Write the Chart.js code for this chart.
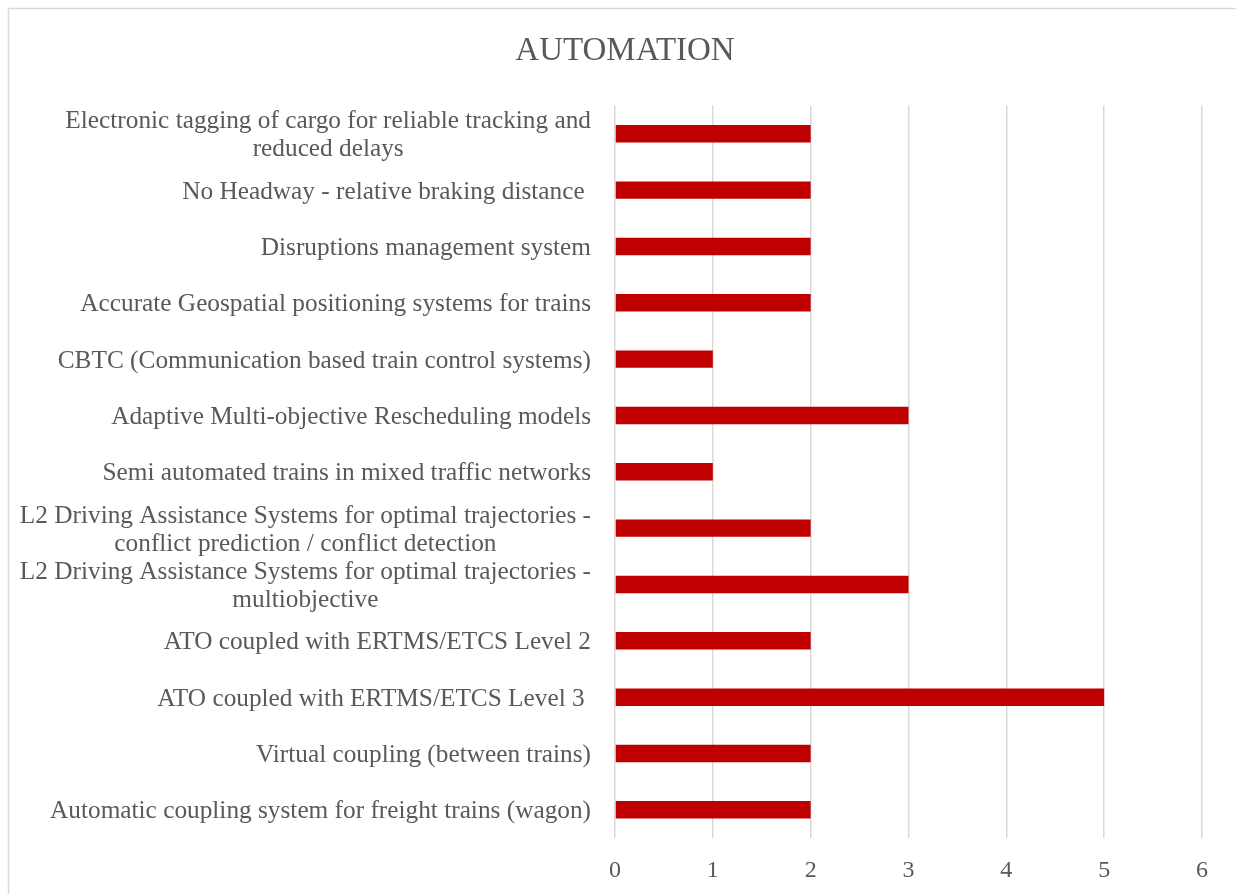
<!DOCTYPE html>
<html>
<head>
<meta charset="utf-8">
<script src="https://cdn.jsdelivr.net/npm/chart.js@4/dist/chart.umd.min.js"></script>
<style>
  html, body { margin: 0; padding: 0; background: #ffffff; }
  canvas { display: block; }
</style>
</head>
<body>
<canvas id="c" width="1236" height="894"></canvas>
<script>
const chartTitle = 'AUTOMATION';
const categories = [
  ['Electronic tagging of cargo for reliable tracking and', 'reduced delays'],
  'No Headway - relative braking distance ',
  'Disruptions management system',
  'Accurate Geospatial positioning systems for trains',
  'CBTC (Communication based train control systems)',
  'Adaptive Multi-objective Rescheduling models',
  'Semi automated trains in mixed traffic networks',
  ['L2 Driving Assistance Systems for optimal trajectories -', 'conflict prediction / conflict detection'],
  ['L2 Driving Assistance Systems for optimal trajectories -', 'multiobjective'],
  'ATO coupled with ERTMS/ETCS Level 2',
  'ATO coupled with ERTMS/ETCS Level 3 ',
  'Virtual coupling (between trains)',
  'Automatic coupling system for freight trains (wagon)'
];
const values = [2, 2, 2, 2, 1, 3, 1, 2, 3, 2, 5, 2, 2];
const xTickLabels = ['0', '1', '2', '3', '4', '5', '6'];

const FONT = '"Liberation Serif", "Times New Roman", serif';
const TEXT = '#595959';
const GRID = '#d9d9d9';

const frame = {
  id: 'frame',
  beforeDraw(chart) {
    const ctx = chart.ctx;
    ctx.save();
    ctx.fillStyle = '#ffffff';
    ctx.fillRect(0, 0, chart.width, chart.height);
    ctx.strokeStyle = GRID;
    ctx.lineWidth = 1.5;
    ctx.strokeRect(8.5, 8.5, 1400, 1000);
    ctx.restore();
  }
};

const yLabels = {
  id: 'yLabels',
  afterDraw(chart) {
    const ctx = chart.ctx;
    const ys = chart.scales.y;
    ctx.save();
    ctx.font = '25.3px ' + FONT;
    ctx.fillStyle = TEXT;
    ctx.textAlign = 'center';
    ctx.textBaseline = 'middle';
    const lh = 28;
    categories.forEach((lab, i) => {
      const lines = Array.isArray(lab) ? lab : [lab];
      const w = Math.max(...lines.map(l => ctx.measureText(l).width));
      const cx = chart.chartArea.left - 24 - w / 2;
      const cy = ys.getPixelForValue(i) + 2;
      lines.forEach((l, j) => {
        ctx.fillText(l, cx, cy + (j - (lines.length - 1) / 2) * lh);
      });
    });
    ctx.restore();
  }
};

new Chart(document.getElementById('c'), {
  type: 'bar',
  data: {
    labels: categories,
    datasets: [{
      data: values,
      backgroundColor: '#C00000',
      borderWidth: 0,
      barPercentage: 0.31,
      categoryPercentage: 1.0
    }]
  },
  options: {
    indexAxis: 'y',
    responsive: false,
    animation: false,
    devicePixelRatio: 1,
    layout: { padding: { left: 48, right: 34, top: 0, bottom: 0 } },
    plugins: {
      legend: { display: false },
      tooltip: { enabled: false },
      title: {
        display: true,
        text: chartTitle,
        color: TEXT,
        font: { family: FONT, size: 33, weight: 'normal', lineHeight: 1.2 },
        padding: { top: 32, bottom: 34 }
      }
    },
    scales: {
      x: {
        position: 'bottom',
        min: 0,
        max: 6,
        ticks: {
          stepSize: 1,
          color: TEXT,
          font: { family: FONT, size: 24 },
          padding: 18,
          callback: (v) => xTickLabels[v] !== undefined ? xTickLabels[v] : ''
        },
        grid: { color: GRID, lineWidth: 1.5, drawTicks: false },
        border: { display: false },
        afterFit(s) { s.height = 56; }
      },
      y: {
        ticks: { display: false },
        grid: { display: false },
        border: { display: false },
        afterFit(s) { s.width = 567; }
      }
    }
  },
  plugins: [frame, yLabels]
});
</script>
</body>
</html>
